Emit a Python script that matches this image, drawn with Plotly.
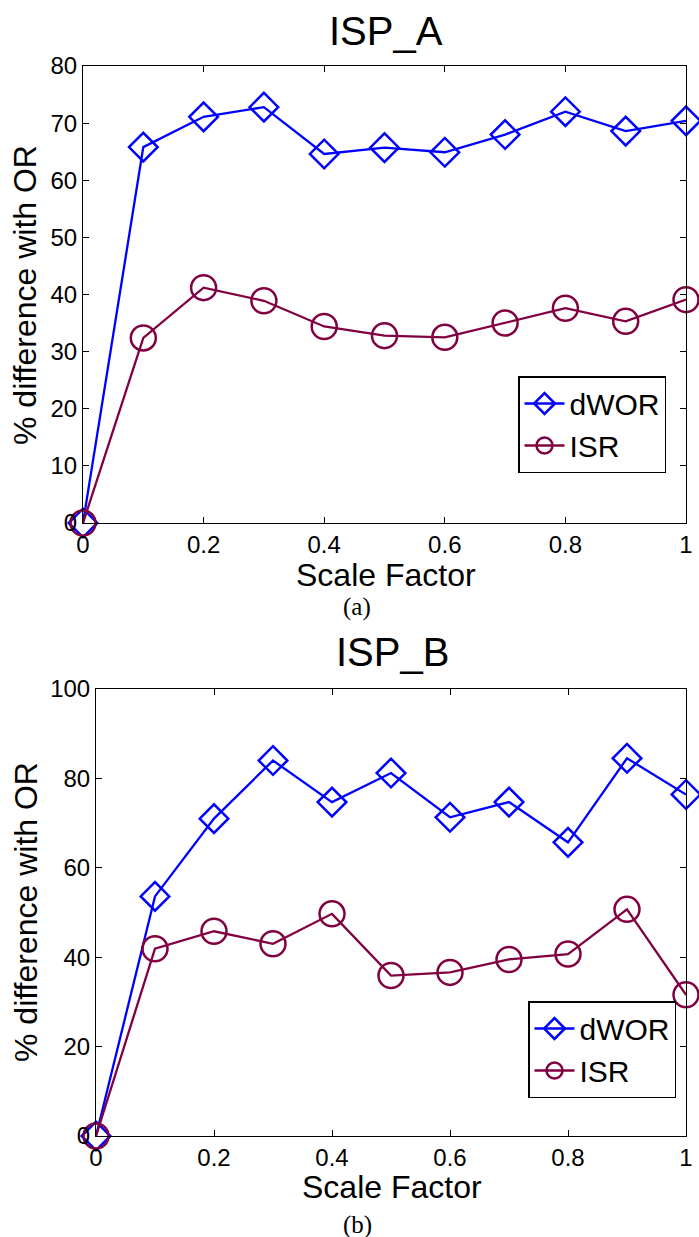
import plotly.graph_objects as go

# ---- data ----
scale_factor = [0, 0.1, 0.2, 0.3, 0.4, 0.5, 0.6, 0.7, 0.8, 0.9, 1.0]
ispa_dwor = [0, 65.8, 71.1, 72.8, 64.6, 65.7, 64.9, 68.0, 72.0, 68.6, 70.4]
ispa_isr = [0, 32.4, 41.2, 38.9, 34.4, 32.8, 32.5, 35.0, 37.6, 35.3, 39.1]
ispb_dwor = [0, 53.6, 71.0, 84.0, 74.7, 81.2, 71.3, 74.7, 65.7, 84.5, 76.4]
ispb_isr = [0, 41.9, 45.8, 43.0, 49.7, 35.9, 36.6, 39.5, 40.7, 50.7, 31.6]
x_ticks = [0, 0.2, 0.4, 0.6, 0.8, 1]
x_ticklabels = ["0", "0.2", "0.4", "0.6", "0.8", "1"]
ya_ticks = [0, 10, 20, 30, 40, 50, 60, 70, 80]
yb_ticks = [0, 20, 40, 60, 80, 100]

W, H = 699, 1237
def px(x):
    return x / W
def py(y):
    return 1 - y / H

BLUE = "#0000FF"
MAROON = "#800040"
FONT = "Liberation Sans, Arial, Helvetica, sans-serif"

fig = go.Figure()

def add_series(xa, ya, yvals, name, color, symbol, size, legend, show):
    fig.add_trace(go.Scatter(
        x=scale_factor, y=yvals, name=name, mode="lines+markers",
        xaxis=xa, yaxis=ya, legend=legend, showlegend=show,
        line=dict(color=color, width=2.3),
        marker=dict(symbol=symbol, size=size, color=color,
                    line=dict(color=color, width=2.5)),
        cliponaxis=False,
    ))

add_series("x", "y", ispa_dwor, "dWOR", BLUE, "diamond-open", 22, "legend", True)
add_series("x", "y", ispa_isr, "ISR", MAROON, "circle-open", 25, "legend", True)
add_series("x2", "y2", ispb_dwor, "dWOR", BLUE, "diamond-open", 22, "legend2", True)
add_series("x2", "y2", ispb_isr, "ISR", MAROON, "circle-open", 25, "legend2", True)

axis_common = dict(
    showgrid=False, zeroline=False, showline=True, linecolor="black",
    linewidth=1, mirror="ticks", ticks="inside", ticklen=6, tickwidth=1,
    tickcolor="black", automargin=False,
    tickfont=dict(family=FONT, size=24, color="black"),
)

legend_common = dict(xanchor="left", yanchor="top", itemwidth=40,
                     bordercolor="black", borderwidth=1.5, bgcolor="white",
                     font=dict(family=FONT, size=30, color="black"))

fig.update_layout(
    template="none",
    width=W, height=H, autosize=False,
    margin=dict(l=0, r=0, t=0, b=0, pad=0),
    paper_bgcolor="white", plot_bgcolor="white",
    xaxis=dict(domain=[px(83), px(686)], range=[0, 1], anchor="y",
               tickvals=x_ticks, ticktext=x_ticklabels, **axis_common),
    yaxis=dict(domain=[py(523), py(66)], range=[0, 80], anchor="x",
               tickvals=ya_ticks, **axis_common),
    xaxis2=dict(domain=[px(96), px(686)], range=[0, 1], anchor="y2",
                tickvals=x_ticks, ticktext=x_ticklabels, **axis_common),
    yaxis2=dict(domain=[py(1136), py(689)], range=[0, 100], anchor="x2",
                tickvals=yb_ticks, **axis_common),
    legend=dict(x=px(518), y=py(376), **legend_common),
    legend2=dict(x=px(528), y=py(1001), **legend_common),
)

def ann(text, x, y, size, family=FONT, angle=0):
    fig.add_annotation(text=text, x=px(x), y=py(y), xref="paper", yref="paper",
                       showarrow=False, textangle=angle, xanchor="center",
                       yanchor="middle",
                       font=dict(family=family, size=size, color="black"))

ann("ISP_A", 386, 31, 40)
ann("ISP_B", 392, 652, 40)
ann("Scale Factor", 386, 575, 32)
ann("Scale Factor", 392, 1187, 32)
ann("% difference with OR", 25, 295, 32, angle=-90)
ann("% difference with OR", 26, 912, 32, angle=-90)
ann("(a)", 357, 607, 25, family="Liberation Serif, Times New Roman, serif")
ann("(b)", 357, 1225, 25, family="Liberation Serif, Times New Roman, serif")

fig.write_html("out.html", config={"displayModeBar": False},
               post_script="document.body.style.margin='0';document.body.style.overflow='hidden';")
